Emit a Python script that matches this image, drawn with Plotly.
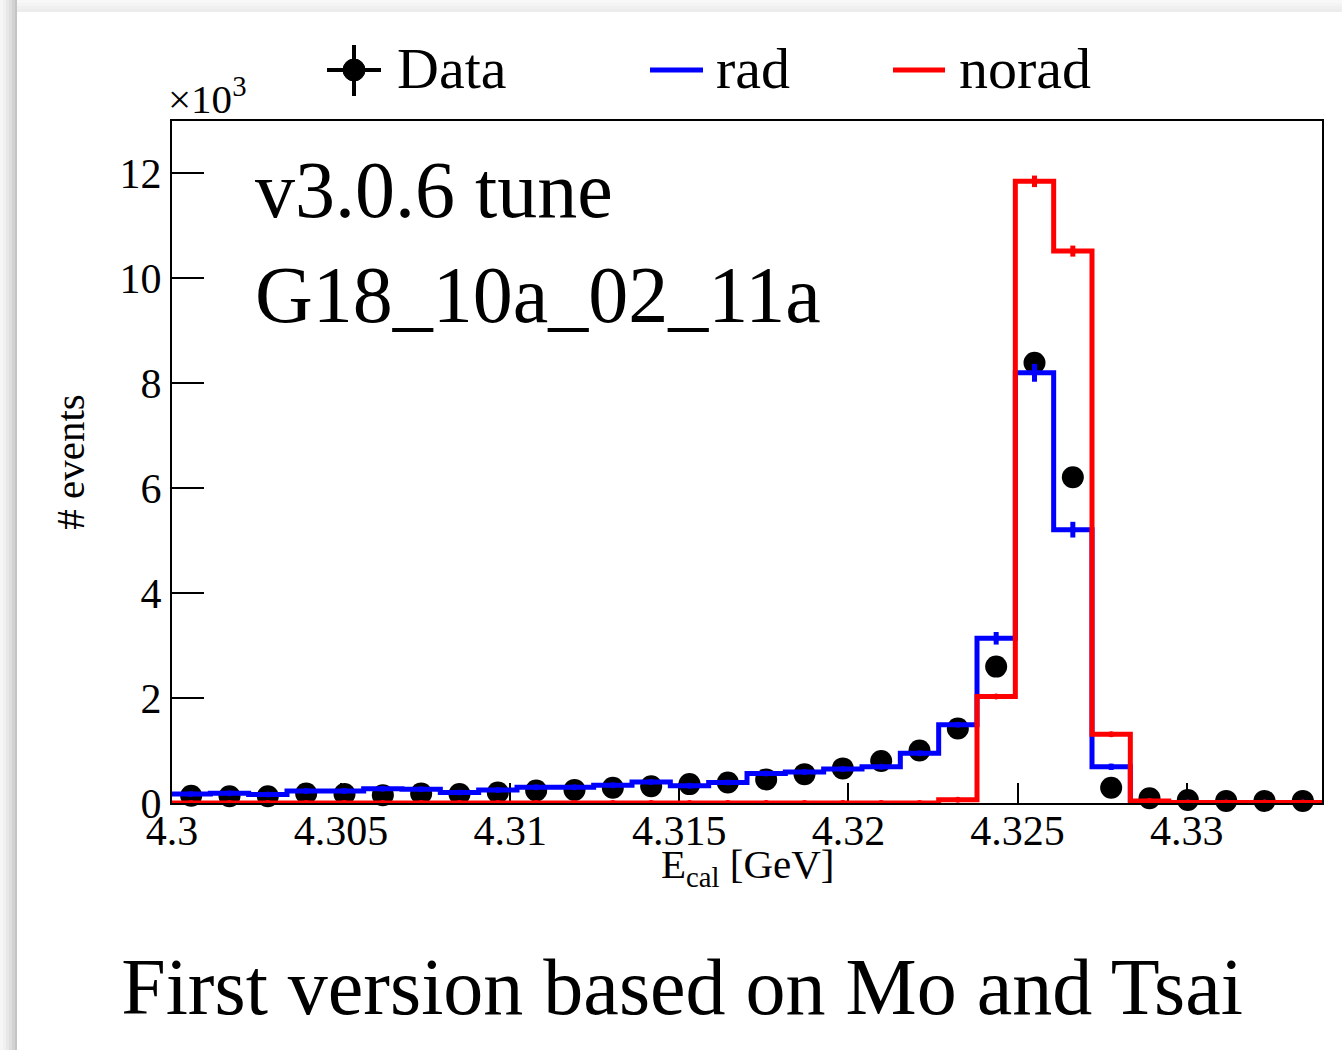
import numpy as np
import plotly.graph_objects as go

# ---------------- data ----------------
x_min = 4.300
x_max = 4.334
n_bins = 30

data_counts = [140, 130, 130, 180, 170, 150, 180, 170, 200, 240,
               250, 290, 320, 360, 390, 450, 550, 660, 800, 1000,
               1420, 2600, 8390, 6210, 290, 90, 57, 40, 40, 40]
data_err = [12, 11, 11, 13, 13, 12, 13, 13, 14, 15,
            16, 17, 18, 19, 20, 21, 23, 26, 28, 32,
            38, 51, 92, 79, 17, 9, 8, 6, 6, 6]

rad_counts = [170, 185, 160, 230, 230, 270, 260, 200, 250, 300,
              300, 340, 400, 330, 390, 560, 590, 650, 690, 950,
              1490, 3140, 8200, 5210, 690, 30, 10, 10, 10, 10]
rad_err = [13, 14, 13, 15, 15, 16, 16, 14, 16, 17,
           17, 18, 20, 18, 20, 24, 24, 25, 26, 31,
           39, 120, 170, 150, 60, 6, 3, 3, 3, 3]

norad_counts = [0, 0, 0, 0, 0, 0, 0, 0, 0, 0,
                0, 0, 0, 0, 0, 0, 0, 0, 0, 0,
                60, 2030, 11850, 10520, 1310, 40, 10, 10, 10, 10]
norad_err = [0, 0, 0, 0, 0, 0, 0, 0, 0, 0,
             0, 0, 0, 0, 0, 0, 0, 0, 0, 0,
             8, 45, 110, 105, 36, 6, 3, 3, 3, 3]

x_tickvals = [4.300, 4.305, 4.310, 4.315, 4.320, 4.325, 4.330]
x_ticktext = ["4.3", "4.305", "4.31", "4.315", "4.32", "4.325", "4.33"]
y_tickvals = [0, 2000, 4000, 6000, 8000, 10000, 12000]
y_ticktext = ["0", "2", "4", "6", "8", "10", "12"]

# ---------------- figure ----------------
edges = np.linspace(x_min, x_max, n_bins + 1)
centers = 0.5 * (edges[:-1] + edges[1:])

W, H = 1342, 1050
L, R, T, B = 172, 20, 121, 247
PW, PH = W - L - R, H - T - B


def px(x):  # pixel -> paper x
    return (x - L) / PW


def py(y):  # pixel -> paper y
    return (H - B - y) / PH


def step(vals):
    return list(edges), list(vals) + [vals[-1]]


BLUE = "#0000ff"
RED = "#ff0000"
FONT = "Liberation Serif"

fig = go.Figure()

fig.add_trace(go.Scatter(
    x=centers, y=data_counts, mode="markers", name="Data",
    marker=dict(size=22, color="black"),
    error_y=dict(type="data", array=data_err, color="black", thickness=3, width=0),
    cliponaxis=False, showlegend=False))

for vals, errs, col, name in [(rad_counts, rad_err, BLUE, "rad"),
                              (norad_counts, norad_err, RED, "norad")]:
    sx, sy = step(vals)
    fig.add_trace(go.Scatter(
        x=sx, y=sy, mode="lines", name=name,
        line=dict(color=col, width=5, shape="hv"), showlegend=False))
    fig.add_trace(go.Scatter(
        x=centers, y=vals, mode="markers", name=name + " err",
        marker=dict(size=0, color=col),
        error_y=dict(type="data", array=errs, color=col, thickness=5, width=0),
        showlegend=False))

shapes = []
# slide shadow (left and top)
left_cols = ["#f6f6f6", "#f0f0f0", "#e8e8e8", "#dedede", "#d2d2d2", "#c4c4c4"]
for i, c in enumerate(left_cols):
    shapes.append(dict(type="rect", xref="paper", yref="paper",
                       x0=px(i * 3), x1=px(i * 3 + 3 if i < 5 else 17),
                       y0=py(H), y1=py(0), fillcolor=c, line_width=0, layer="below"))
top_cols = ["#f8f8f8", "#f4f4f4", "#f0f0f0", "#ececec"]
for i, c in enumerate(top_cols):
    shapes.append(dict(type="rect", xref="paper", yref="paper",
                       x0=px(17), x1=px(W), y0=py(i * 3), y1=py(i * 3 + 3),
                       fillcolor=c, line_width=0, layer="below"))

# legend symbols
ly = py(70)
shapes += [
    dict(type="line", xref="paper", yref="paper", x0=px(327), x1=px(381), y0=ly, y1=ly,
         line=dict(color="black", width=4)),
    dict(type="line", xref="paper", yref="paper", x0=px(354), x1=px(354), y0=py(45), y1=py(96),
         line=dict(color="black", width=4)),
    dict(type="circle", xref="paper", yref="paper", x0=px(343), x1=px(365), y0=py(81), y1=py(59),
         fillcolor="black", line=dict(color="black", width=1)),
    dict(type="line", xref="paper", yref="paper", x0=px(650), x1=px(703), y0=ly, y1=ly,
         line=dict(color=BLUE, width=5)),
    dict(type="line", xref="paper", yref="paper", x0=px(893), x1=px(945), y0=ly, y1=ly,
         line=dict(color=RED, width=5)),
]

annotations = [
    dict(text="Data", x=px(395), y=py(68), xanchor="left", yanchor="middle",
         font=dict(size=58)),
    dict(text="rad", x=px(714), y=py(68), xanchor="left", yanchor="middle",
         font=dict(size=58)),
    dict(text="norad", x=px(957), y=py(68), xanchor="left", yanchor="middle",
         font=dict(size=58)),
    dict(text="v3.0.6 tune", x=px(253), y=py(144), xanchor="left", yanchor="top",
         font=dict(size=80)),
    dict(text="G18_10a_02_11a", x=px(253), y=py(249), xanchor="left", yanchor="top",
         font=dict(size=80)),
    dict(text="\u00d710<sup>3</sup>", x=px(166), y=py(124), xanchor="left", yanchor="bottom",
         font=dict(size=41)),
    dict(text="E<sub>cal</sub> [GeV]", x=px(747), y=py(839), xanchor="center", yanchor="top",
         font=dict(size=41)),
]
for a in annotations:
    a.update(xref="paper", yref="paper", showarrow=False)
    a["font"].update(family=FONT, color="black")

fig.update_layout(
    width=W, height=H,
    margin=dict(l=L, r=R, t=T, b=B, pad=0),
    paper_bgcolor="white", plot_bgcolor="white",
    font=dict(family=FONT, color="black", size=42),
    title=dict(text="First version based on Mo and Tsai", x=682 / W, xanchor="center",
               xref="container", yref="container", y=1 - 958 / H, yanchor="top",
               font=dict(size=80, family=FONT, color="black")),
    shapes=shapes, annotations=annotations,
    showlegend=False,
)
fig.update_xaxes(
    range=[x_min, x_max], tickvals=x_tickvals, ticktext=x_ticktext,
    ticks="inside", ticklen=20, tickwidth=2, tickcolor="black",
    showline=True, linewidth=2, linecolor="black", mirror=True,
    showgrid=False, zeroline=False, layer="below traces",
    tickfont=dict(size=42, family=FONT, color="black"), ticklabelstandoff=-10,
)
fig.update_yaxes(
    range=[0, 13000], tickvals=y_tickvals, ticktext=y_ticktext,
    ticks="inside", ticklen=32, tickwidth=2, tickcolor="black",
    showline=True, linewidth=2, linecolor="black", mirror=True,
    showgrid=False, zeroline=False, layer="below traces",
    tickfont=dict(size=42, family=FONT, color="black"), ticklabelstandoff=0,
    title=dict(text="# events", standoff=22,
               font=dict(size=41, family=FONT, color="black")),
)

fig.write_html("out.html")
